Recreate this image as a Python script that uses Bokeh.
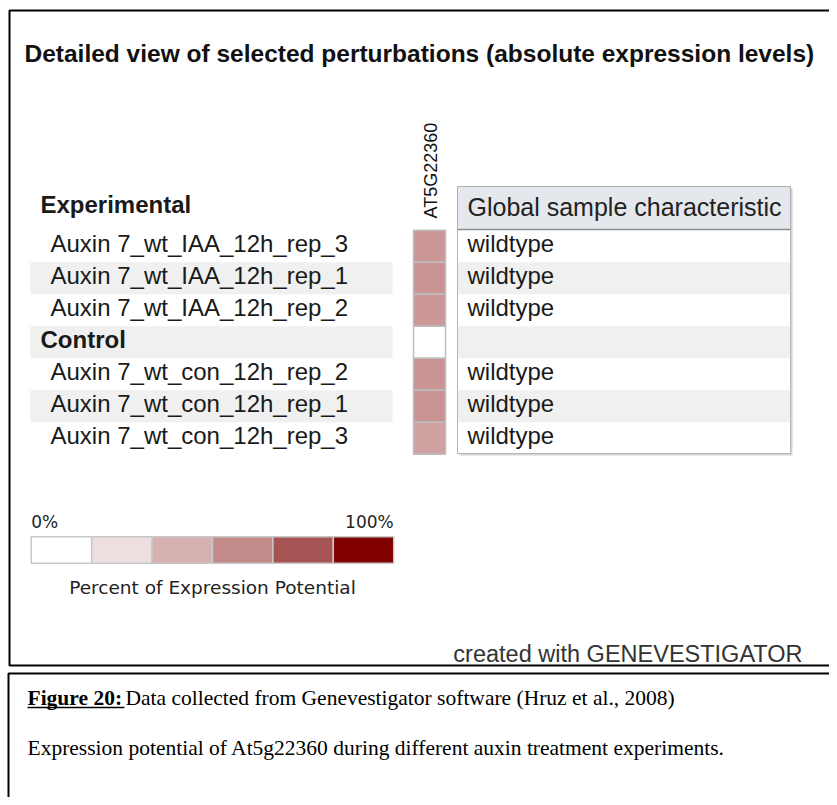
import math
from bokeh.plotting import figure
from bokeh.models import Range1d, ColumnDataSource, LinearColorMapper
from bokeh.core.properties import value
from bokeh.embed import file_html
from bokeh.resources import INLINE

# ---------------- data ----------------
title_text = "Detailed view of selected perturbations (absolute expression levels)"
gene = "AT5G22360"
group_header = "Experimental"
samples = ["Auxin 7_wt_IAA_12h_rep_3", "Auxin 7_wt_IAA_12h_rep_1", "Auxin 7_wt_IAA_12h_rep_2",
           "Control",
           "Auxin 7_wt_con_12h_rep_2", "Auxin 7_wt_con_12h_rep_1", "Auxin 7_wt_con_12h_rep_3"]
is_group = [False, False, False, True, False, False, False]
expression = [41, 42, 41, float("nan"), 42, 42, 37]   # percent of expression potential
characteristic = ["wildtype", "wildtype", "wildtype", "", "wildtype", "wildtype", "wildtype"]
table_header = "Global sample characteristic"
legend_colors = ["#FFFFFF", "#EDDFDF", "#D6B1B1", "#C38A8A", "#A55353", "#800000"]
legend_ticks = ["0%", "100%"]
legend_title = "Percent of Expression Potential"
credit = "created with GENEVESTIGATOR"
caption_bold = "Figure 20:"
caption_1 = "Data collected from Genevestigator software (Hruz et al., 2008)"
caption_2 = "Expression potential of At5g22360 during different auxin treatment experiments."

# ---------------- figure (image pixel coordinates) ----------------
W, H = 829, 797
p = figure(width=W, height=H, x_range=Range1d(0, W), y_range=Range1d(H, 0),
           output_backend="svg", toolbar_location=None, min_border=0)
p.axis.visible = False
p.xgrid.visible = False
p.ygrid.visible = False
p.outline_line_color = None
p.background_fill_color = "white"
p.border_fill_color = "white"

# row range: row i centred at 245.7 + 32 i (px)
row_top, row_h = 245.7, 32.0
p.extra_y_ranges = {"rows": Range1d((H - row_top) / row_h, (0 - row_top) / row_h)}
# legend range: segment j centred at 61 + 60.4 j
leg_c, leg_w = 61.0, 60.4
p.extra_x_ranges = {"legend": Range1d((0 - leg_c) / leg_w, (W - leg_c) / leg_w)}

SANS = "Liberation Sans"
SERIF = "Liberation Serif"
n = len(samples)
idx = list(range(n))

# boxes
p.quad(left=9, right=860, top=10, bottom=665, fill_color=None, line_color="black", line_width=2)
p.quad(left=8, right=860, top=673, bottom=840, fill_color=None, line_color="black", line_width=2)

# title
p.text(x=[24], y=[53], text=[title_text], text_font=value(SANS),
       text_font_style="bold", text_font_size="24.5px", text_color="#111111",
       text_baseline="middle")

# banded rows (label area)
band = [i for i in idx if i % 2 == 1]
p.rect(x=[211] * len(band), y=band, width=362, height=1, y_range_name="rows",
       fill_color="#F0F0F0", line_color=None)

# row labels
src = ColumnDataSource(dict(
    y=idx,
    ty=[i - 0.1 for i in idx],
    x=[40 if g else 50 for g in is_group],
    label=samples,
    style=["bold" if g else "normal" for g in is_group],
    ch=characteristic,
    v=expression,
))
p.text(x="x", y="ty", text="label", source=src, y_range_name="rows",
       text_font=value(SANS), text_font_size="24px", text_font_style="style",
       text_color="#1a1a1a", text_baseline="middle")
p.text(x=[40], y=[204], text=[group_header],
       text_font=value(SANS), text_font_size="24px", text_font_style="bold",
       text_color="#1a1a1a", text_baseline="middle")

# heatmap column
mapper = LinearColorMapper(palette=["#%02X%02X%02X" % (round(255 - 127 * t / 255), 255 - t, 255 - t)
                                    for t in range(256)],
                           low=0, high=100, nan_color="white")
p.rect(x=429, y="y", width=32, height=1, source=src, y_range_name="rows",
       fill_color={"field": "v", "transform": mapper}, line_color="#BDBDBD", line_width=1.5)

# gene label (vertical)
p.text(x=[430], y=[218], text=[gene], angle=math.pi / 2, text_font=value(SANS),
       text_font_size="18px", text_color="#111111", text_baseline="middle",
       text_align="left")

# table
p.quad(left=459, right=792, top=188, bottom=455, fill_color="#D4D4D4", line_color=None)  # shadow
p.quad(left=457, right=790, top=229, bottom=453, fill_color="white", line_color=None)
p.rect(x=[623.5] * len(band), y=band, width=332, height=1, y_range_name="rows",
       fill_color="#F0F0F0", line_color=None)
p.quad(left=457, right=790, top=229, bottom=453, fill_color=None, line_color="#B8B8B8")
p.quad(left=457, right=790, top=186, bottom=229, fill_color="#E4E7EB", line_color="#AFAFAF")
p.segment(x0=[457], y0=[229], x1=[790], y1=[229], line_color="#8C9096", line_width=1.5)
p.text(x=[467], y=[206], text=[table_header], text_font=value(SANS), text_font_size="25px",
       text_color="#222222", text_baseline="middle")
p.text(x=467, y="ty", text="ch", source=src, y_range_name="rows", text_font=value(SANS),
       text_font_size="24px", text_color="#1a1a1a", text_baseline="middle")

# legend
lidx = list(range(len(legend_colors)))
p.rect(x=lidx, y=549.5, width=1, height=26.5, x_range_name="legend",
       fill_color=legend_colors, line_color="#C8C8C8", line_width=1.5)
p.text(x=[-0.5, len(legend_colors) - 0.5], y=[521, 521], text=legend_ticks,
       x_range_name="legend", text_align=["left", "right"], text_font=value("DejaVu Sans"),
       text_font_size="17px", text_color="#222222", text_baseline="middle")
p.text(x=[(len(legend_colors) - 1) / 2], y=[587], text=[legend_title], x_range_name="legend",
       text_align="center", text_font=value("DejaVu Sans"), text_font_size="18.5px",
       text_color="#222222", text_baseline="middle")

# credit
p.text(x=[802], y=[653], text=[credit], text_align="right", text_font=value(SANS),
       text_font_size="23.5px", text_color="#333333", text_baseline="middle")

# caption
p.text(x=[27], y=[697], text=[caption_bold], text_font=value(SERIF),
       text_font_style="bold", text_font_size="21.5px", text_color="black",
       text_baseline="middle")
p.segment(x0=[27], y0=[707], x1=[124], y1=[707], line_color="black", line_width=1.5)
p.text(x=[125], y=[697], text=[caption_1], text_font=value(SERIF),
       text_font_size="21.5px", text_color="black", text_baseline="middle")
p.text(x=[27], y=[747], text=[caption_2], text_font=value(SERIF),
       text_font_size="21.5px", text_color="black", text_baseline="middle")

open("out.html", "w").write(file_html(p, INLINE))
